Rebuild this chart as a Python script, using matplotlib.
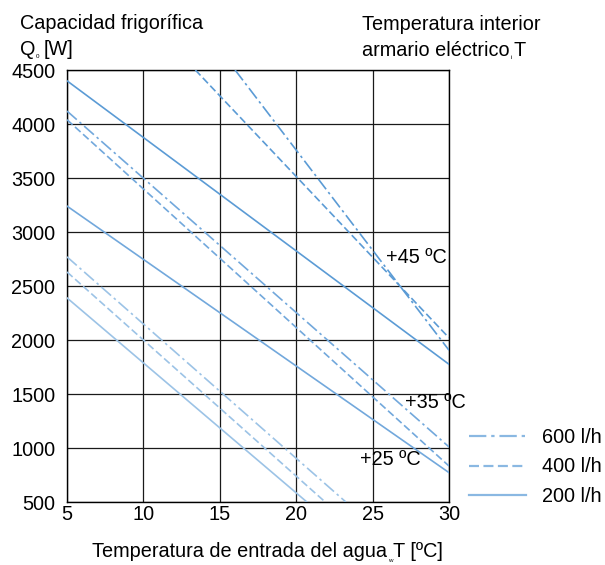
import matplotlib
matplotlib.use("Agg")
import matplotlib.pyplot as plt
from matplotlib.lines import Line2D

plt.rcParams['font.family'] = ['Liberation Sans', 'DejaVu Sans']

# ---- data ----
flows = ['600 l/h', '400 l/h', '200 l/h']

t45_200_x = [5, 30];      t45_200_y = [4400, 1775]
t45_400_x = [13.4, 30];   t45_400_y = [4500, 2020]
t45_600_x = [16.0, 30];   t45_600_y = [4500, 1905]

t35_200_x = [5, 30];      t35_200_y = [3240, 772]
t35_400_x = [5, 30];      t35_400_y = [4040, 833]
t35_600_x = [5, 30];      t35_600_y = [4120, 1010]

t25_200_x = [5, 20.7];    t25_200_y = [2390, 500]
t25_400_x = [5, 21.9];    t25_400_y = [2630, 500]
t25_600_x = [5, 23.25];   t25_600_y = [2770, 500]

temp_labels = ['+45 ºC', '+35 ºC', '+25 ºC']
temp_label_x = [25.9, 27.1, 24.2]
temp_label_y = [2760, 1420, 890]

xticks = [5, 10, 15, 20, 25, 30]
yticks = [500, 1000, 1500, 2000, 2500, 3000, 3500, 4000, 4500]

# ---- styles ----
FS = 14.3
c45, c35, c25 = '#5b9bd5', '#72a8dc', '#9cc3e6'
ls_dash = (0, (4.5, 2.0))
ls_dashdot = (0, (7.8, 2.2, 1.5, 2.2))
ls_solid = '-'
LW = 1.2

fig = plt.figure(figsize=(6.05, 5.65), dpi=100)
ax = fig.add_axes([67/605, 1-502/565, (449-67)/605, (502-70)/565])

groups = [
    (c45, [(t45_600_x, t45_600_y, ls_dashdot), (t45_400_x, t45_400_y, ls_dash), (t45_200_x, t45_200_y, ls_solid)]),
    (c35, [(t35_600_x, t35_600_y, ls_dashdot), (t35_400_x, t35_400_y, ls_dash), (t35_200_x, t35_200_y, ls_solid)]),
    (c25, [(t25_600_x, t25_600_y, ls_dashdot), (t25_400_x, t25_400_y, ls_dash), (t25_200_x, t25_200_y, ls_solid)]),
]
for col, lines in groups:
    for xs, ys, ls in lines:
        ax.plot(xs, ys, color=col, lw=LW, linestyle=ls, zorder=3, clip_on=True)

for lab, lx, ly in zip(temp_labels, temp_label_x, temp_label_y):
    ax.text(lx, ly, lab, fontsize=FS, ha='left', va='center', zorder=4)

ax.set_xlim(5, 30)
ax.set_ylim(500, 4500)
ax.set_xticks(xticks)
ax.set_yticks(yticks)
ax.set_xticklabels([str(v) for v in xticks], fontsize=FS)
ax.set_yticklabels([str(v) for v in yticks], fontsize=FS)
ax.tick_params(length=0)
ax.tick_params(axis='y', pad=8.5)
ax.tick_params(axis='x', pad=2)
ax.grid(True, color='#1a1a1a', lw=0.9, zorder=1)
ax.set_axisbelow(True)
for s in ax.spines.values():
    s.set_color('black')
    s.set_linewidth(1.0)

# legend
leg_handles = [
    Line2D([], [], color='#8ab8e2', lw=1.6, linestyle=ls_dashdot),
    Line2D([], [], color='#8ab8e2', lw=1.6, linestyle=ls_dash),
    Line2D([], [], color='#8ab8e2', lw=1.6, linestyle=ls_solid),
]
fig.legend(leg_handles, flows, loc='center left',
           bbox_to_anchor=(469/605, 1-467/565), bbox_transform=fig.transFigure,
           frameon=False, fontsize=FS, handlelength=2.85, handletextpad=0.85,
           labelspacing=0.55, borderpad=0, borderaxespad=0)

# titles with tiny subscripts
def chain(prefix, sub, suffix, x, yb, sub_dx=0.5, sub_dy=-2.5, gap=4.5):
    t1 = fig.text(x, yb, prefix, fontsize=FS, ha='left', va='baseline')
    ax.annotate(sub, xy=(1, yb), xycoords=(t1, 'figure fraction'),
                xytext=(sub_dx, sub_dy), textcoords='offset points',
                fontsize=4.5, ha='left', va='baseline', annotation_clip=False)
    ax.annotate(suffix, xy=(1, yb), xycoords=(t1, 'figure fraction'),
                xytext=(gap, 0), textcoords='offset points',
                fontsize=FS, ha='left', va='baseline', annotation_clip=False)

fig.text(20/605, 1-29/565, 'Capacidad frigorífica', fontsize=FS, ha='left', va='baseline')
chain('Q', '0', '[W]', 20/605, 1-55/565, sub_dx=0.3, sub_dy=-2.0, gap=6.0)

fig.text(362/605, 1-30/565, 'Temperatura interior', fontsize=FS, ha='left', va='baseline')
chain('armario eléctrico', 'i', 'T', 362/605, 1-56/565, sub_dx=0.5, sub_dy=-2.5, gap=2.5)

chain('Temperatura de entrada del agua', 'w', 'T [ºC]', 92/605, 1-557/565,
      sub_dx=0.8, sub_dy=-3.5, gap=4.0)

fig.savefig('out.png', dpi=100)
